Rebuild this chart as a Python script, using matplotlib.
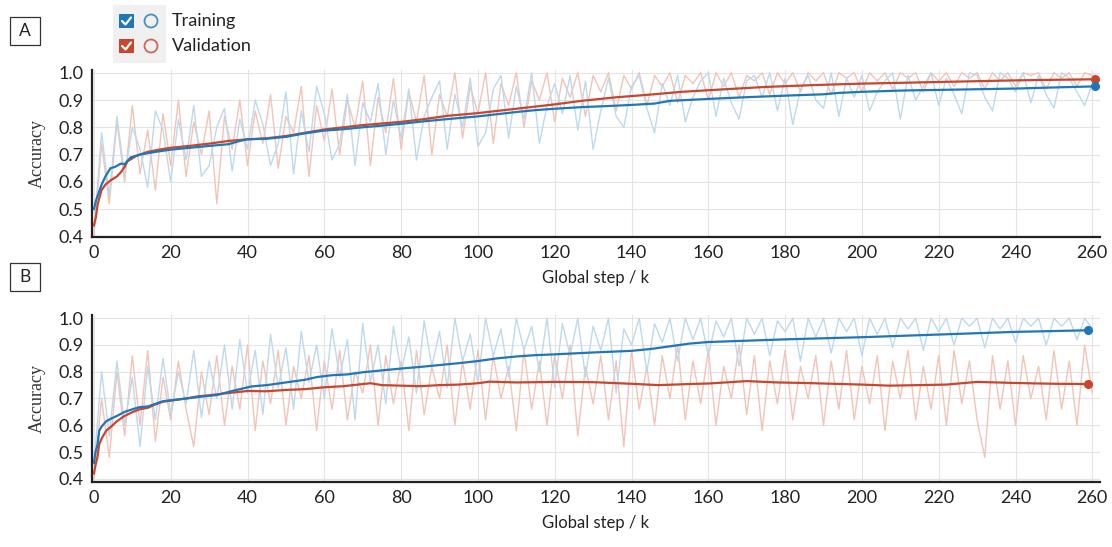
import numpy as np
import matplotlib
matplotlib.use('Agg')
import matplotlib.pyplot as plt
from matplotlib.patches import Rectangle, Circle

# ---- data -------------------------------------------------------------
raw_steps = np.arange(0, 261, 2)

a_train_raw = [0.42, 0.78, 0.55, 0.84, 0.62, 0.80, 0.72, 0.58, 0.86, 0.79,
               0.60, 0.83, 0.68, 0.88, 0.62, 0.66, 0.80, 0.87, 0.64, 0.83,
               0.72, 0.90, 0.81, 0.66, 0.74, 0.93, 0.63, 0.86, 0.71, 0.95,
               0.85, 0.68, 0.74, 0.92, 0.66, 0.89, 0.82, 0.96, 0.70, 0.90,
               0.76, 0.94, 0.68, 0.84, 0.91, 0.97, 0.72, 0.92, 0.80, 0.98,
               0.73, 0.78, 0.94, 0.99, 0.76, 0.95, 0.83, 1.00, 0.74, 0.88,
               0.96, 0.85, 0.99, 0.79, 0.97, 0.72, 0.86, 0.98, 0.84, 0.80,
               0.95, 0.99, 0.87, 0.78, 0.96, 0.88, 0.99, 0.82, 0.91, 0.97,
               1.00, 0.84, 0.98, 0.89, 0.83, 0.97, 0.99, 0.91, 1.00, 0.86,
               0.98, 0.81, 0.94, 0.99, 0.90, 0.87, 1.00, 0.84, 0.98, 0.91,
               0.99, 0.86, 0.93, 0.97, 1.00, 0.83, 0.99, 0.90, 0.95, 1.00,
               0.88, 0.98, 0.92, 0.85, 1.00, 0.99, 0.91, 0.86, 1.00, 0.98,
               0.93, 1.00, 0.89, 0.99, 0.92, 0.87, 1.00, 0.98, 0.93, 0.88,
               0.96]
a_val_raw = [0.40, 0.74, 0.52, 0.82, 0.60, 0.88, 0.63, 0.79, 0.57, 0.85,
             0.66, 0.90, 0.62, 0.82, 0.70, 0.86, 0.52, 0.84, 0.72, 0.90,
             0.66, 0.86, 0.74, 0.92, 0.65, 0.84, 0.78, 0.95, 0.62, 0.88,
             0.75, 0.94, 0.70, 0.90, 0.80, 0.97, 0.66, 0.91, 0.78, 0.98,
             0.72, 0.93, 0.82, 0.99, 0.70, 0.92, 0.84, 1.00, 0.76, 0.95,
             0.85, 1.00, 0.74, 0.96, 0.88, 1.00, 0.80, 0.97, 0.90, 1.00,
             0.82, 0.98, 0.91, 1.00, 0.84, 0.99, 0.93, 1.00, 0.86, 0.99,
             0.94, 1.00, 0.88, 0.99, 0.95, 1.00, 0.89, 0.99, 0.96, 1.00,
             0.90, 1.00, 0.95, 1.00, 0.91, 0.99, 0.97, 1.00, 0.92, 1.00,
             0.96, 1.00, 0.93, 1.00, 0.97, 1.00, 0.92, 1.00, 0.98, 1.00,
             0.93, 1.00, 0.97, 1.00, 0.94, 1.00, 0.98, 1.00, 0.93, 1.00,
             0.97, 1.00, 0.95, 1.00, 0.98, 1.00, 0.94, 1.00, 0.97, 1.00,
             0.95, 1.00, 0.99, 1.00, 0.94, 1.00, 0.98, 1.00, 0.95, 1.00,
             0.99]
b_train_raw = [0.45, 0.80, 0.56, 0.84, 0.60, 0.78, 0.52, 0.82, 0.62, 0.85,
               0.64, 0.80, 0.68, 0.88, 0.63, 0.84, 0.70, 0.90, 0.66, 0.92,
               0.72, 0.88, 0.64, 0.94, 0.74, 0.89, 0.66, 0.95, 0.76, 0.90,
               0.70, 0.96, 0.78, 0.92, 0.62, 0.98, 0.76, 0.90, 0.68, 0.97,
               0.80, 0.93, 0.72, 0.99, 0.82, 0.95, 0.74, 1.00, 0.84, 0.94,
               0.76, 1.00, 0.86, 0.96, 0.78, 1.00, 0.88, 0.97, 0.80, 1.00,
               0.74, 0.98, 0.86, 1.00, 0.78, 0.97, 0.88, 1.00, 0.72, 0.96,
               0.90, 1.00, 0.80, 0.98, 0.91, 1.00, 0.84, 1.00, 0.92, 1.00,
               0.86, 0.99, 0.93, 1.00, 0.82, 1.00, 0.94, 1.00, 0.86, 0.99,
               0.95, 1.00, 0.84, 1.00, 0.93, 1.00, 0.87, 1.00, 0.95, 1.00,
               0.86, 1.00, 0.94, 1.00, 0.89, 1.00, 0.96, 1.00, 0.88, 1.00,
               0.95, 1.00, 0.90, 1.00, 0.97, 1.00, 0.89, 1.00, 0.96, 1.00,
               0.91, 1.00, 0.97, 1.00, 0.90, 1.00, 0.97, 1.00, 0.92, 1.00,
               0.96]
b_val_raw = [0.40, 0.70, 0.48, 0.80, 0.56, 0.86, 0.60, 0.88, 0.54, 0.78,
             0.62, 0.84, 0.66, 0.52, 0.80, 0.64, 0.86, 0.60, 0.82, 0.66,
             0.90, 0.58, 0.84, 0.68, 0.88, 0.60, 0.82, 0.70, 0.86, 0.58,
             0.84, 0.66, 0.88, 0.62, 0.80, 0.72, 0.90, 0.60, 0.86, 0.68,
             0.84, 0.58, 0.88, 0.64, 0.82, 0.70, 0.90, 0.60, 0.84, 0.66,
             0.88, 0.62, 0.86, 0.70, 0.82, 0.58, 0.88, 0.66, 0.84, 0.60,
             0.86, 0.70, 0.90, 0.56, 0.82, 0.68, 0.86, 0.62, 0.84, 0.52,
             0.88, 0.66, 0.82, 0.60, 0.86, 0.70, 0.90, 0.62, 0.84, 0.68,
             0.88, 0.60, 0.82, 0.70, 0.90, 0.64, 0.86, 0.58, 0.84, 0.68,
             0.88, 0.62, 0.82, 0.70, 0.86, 0.60, 0.84, 0.66, 0.88, 0.62,
             0.82, 0.68, 0.86, 0.58, 0.84, 0.70, 0.88, 0.62, 0.82, 0.66,
             0.86, 0.60, 0.88, 0.68, 0.84, 0.62, 0.48, 0.86, 0.66, 0.84,
             0.60, 0.86, 0.70, 0.82, 0.62, 0.88, 0.66, 0.84, 0.60, 0.90,
             0.72]

a_train_x = [0, 0.5, 1, 2, 3, 4.3, 5.5, 7, 8, 9.6, 12, 14, 17, 20, 25, 31, 35,
             38, 40, 45, 50, 55, 60, 65, 70, 75, 80, 86, 92, 100, 105, 110,
             115, 120, 127, 134, 140, 146, 150, 160, 171, 182, 190, 194, 200,
             211, 220, 232, 240, 250, 260.7]
a_train_smooth = [0.50, 0.53, 0.55, 0.59, 0.62, 0.65, 0.655, 0.667, 0.665,
                  0.69, 0.70, 0.705, 0.712, 0.718, 0.725, 0.733, 0.738, 0.75,
                  0.756, 0.758, 0.765, 0.778, 0.788, 0.793, 0.80, 0.806,
                  0.813, 0.822, 0.83, 0.84, 0.848, 0.856, 0.863, 0.868,
                  0.874, 0.878, 0.882, 0.887, 0.897, 0.904, 0.911, 0.917,
                  0.921, 0.926, 0.93, 0.935, 0.937, 0.94, 0.942, 0.946, 0.95]
a_val_x = [0, 0.5, 1, 2, 3, 4.3, 6, 7, 8, 8.7, 11, 14, 17, 20, 25, 31, 35, 40,
           45, 50, 55, 60, 65, 70, 75, 80, 86, 92, 100, 105, 110, 115, 120,
           127, 136, 145, 153, 165, 175, 188, 200, 210, 220, 230, 240, 250,
           260.7]
a_val_smooth = [0.44, 0.47, 0.52, 0.57, 0.59, 0.605, 0.62, 0.635, 0.655, 0.675,
                0.695, 0.71, 0.718, 0.725, 0.732, 0.742, 0.75, 0.756, 0.76,
                0.768, 0.78, 0.792, 0.80, 0.808, 0.814, 0.82, 0.83, 0.842,
                0.852, 0.86, 0.868, 0.876, 0.884, 0.897, 0.91, 0.92, 0.93,
                0.94, 0.948, 0.955, 0.96, 0.963, 0.966, 0.969, 0.972, 0.974,
                0.976]
b_train_x = [0, 0.4, 0.9, 1.4, 2, 3.2, 4.5, 6, 8, 10.5, 12, 14, 16, 18, 21, 24,
             28.6, 32, 36, 41, 45, 50, 55, 58, 62, 66, 70, 75, 80, 85, 90, 95,
             100, 105, 110, 115, 120, 130, 140, 145, 150, 155, 160, 170, 180,
             190, 200, 210, 220, 230, 240, 250, 259]
b_train_smooth = [0.46, 0.50, 0.525, 0.58, 0.595, 0.615, 0.625, 0.635, 0.65,
                  0.662, 0.668, 0.67, 0.68, 0.69, 0.695, 0.70, 0.708, 0.713,
                  0.728, 0.745, 0.75, 0.76, 0.77, 0.78, 0.787, 0.79, 0.798,
                  0.805, 0.812, 0.818, 0.825, 0.832, 0.84, 0.85, 0.857, 0.862,
                  0.865, 0.872, 0.878, 0.885, 0.895, 0.905, 0.911, 0.916,
                  0.921, 0.925, 0.929, 0.934, 0.939, 0.944, 0.949, 0.952, 0.955]
b_val_x = [0, 0.4, 0.9, 1.4, 2, 3.2, 4.5, 6, 8, 10.5, 12, 14, 16, 18, 21, 24,
           27, 30, 36, 40, 45, 50, 55, 60, 65, 70, 72, 75, 80, 85, 90, 95, 100,
           103, 110, 120, 130, 140, 147, 155, 160, 170, 178, 185, 195, 200,
           207, 215, 222, 230, 240, 250, 259]
b_val_smooth = [0.42, 0.45, 0.48, 0.53, 0.55, 0.58, 0.595, 0.615, 0.635,
                0.652, 0.66, 0.665, 0.678, 0.688, 0.694, 0.70, 0.708, 0.712,
                0.722, 0.728, 0.727, 0.732, 0.735, 0.742, 0.746, 0.754, 0.757,
                0.75, 0.748, 0.746, 0.75, 0.752, 0.757, 0.763, 0.76, 0.762,
                0.761, 0.755, 0.75, 0.754, 0.756, 0.765, 0.76, 0.758, 0.754,
                0.752, 0.748, 0.75, 0.752, 0.762, 0.758, 0.755, 0.754]

x_ticks = list(range(0, 261, 20))
y_ticks = [0.4, 0.5, 0.6, 0.7, 0.8, 0.9, 1.0]
legend_labels = ['Training', 'Validation']

# ---- style ------------------------------------------------------------
blue = '#1f77b8'
red = '#c9452c'
blue_raw = '#bcd9ee'
red_raw = '#f3c3b6'
sans = ['Lato', 'DejaVu Sans']

W, H = 1112, 547
fig = plt.figure(figsize=(W / 100, H / 100), dpi=100)


def panel(top_px, bottom_px, ylim, tr_raw, va_raw, tx, ts, vx, vs):
    ax = fig.add_axes([92 / W, 1 - bottom_px / H, (1100 - 92) / W,
                       (bottom_px - top_px) / H])
    ax.plot(raw_steps, va_raw, color=red_raw, lw=1.0, zorder=2)
    ax.plot(raw_steps, tr_raw, color=blue_raw, lw=1.0, zorder=3)
    ax.plot(vx, vs, color=red, lw=1.6, zorder=4)
    ax.plot(tx, ts, color=blue, lw=1.6, zorder=5)
    ax.plot(vx[-1], vs[-1], 'o', color=red, ms=5.5, zorder=6)
    ax.plot(tx[-1], ts[-1], 'o', color=blue, ms=5.5, zorder=6)
    ax.set_xlim(-0.5, 262)
    ax.set_ylim(*ylim)
    ax.set_xticks(x_ticks)
    ax.set_yticks(y_ticks)
    ax.set_yticklabels([f'{v:.1f}' for v in y_ticks])
    ax.grid(True, color='#e4e4e4', lw=0.8)
    ax.set_axisbelow(True)
    for s in ['top', 'right']:
        ax.spines[s].set_visible(False)
    for s in ['left', 'bottom']:
        ax.spines[s].set_linewidth(1.6)
        ax.spines[s].set_color('#222222')
    ax.tick_params(length=0, labelsize=13, pad=6)
    for lab in ax.get_xticklabels() + ax.get_yticklabels():
        lab.set_family(sans)
        lab.set_color('#222222')
    ax.set_xlabel('Global step / k', family=sans, fontsize=12,
                  color='#222222', labelpad=6)
    ax.set_ylabel('Accuracy', family='Liberation Serif', fontsize=13,
                  color='#333333', labelpad=9)
    return ax


panel(70, 237, (0.398, 1.01), a_train_raw, a_val_raw,
      a_train_x, a_train_smooth, a_val_x, a_val_smooth)
panel(315, 482, (0.388, 1.012), b_train_raw, b_val_raw,
      b_train_x, b_train_smooth, b_val_x, b_val_smooth)

# overlay in pixel coords for panel letters and legend
ov = fig.add_axes([0, 0, 1, 1], zorder=10)
ov.set_xlim(0, W)
ov.set_ylim(H, 0)
ov.axis('off')
ov.patch.set_alpha(0)

for letter, y0 in [('A', 17), ('B', 263)]:
    ov.add_patch(Rectangle((10, y0), 30, 28, fill=False, ec='#333333', lw=0.9))
    ov.text(25, y0 + 14, letter, ha='center', va='center', family=sans,
            fontsize=12.5, color='#222222')

ov.add_patch(Rectangle((113, 5), 53, 58, fc='#f0f0f0', ec='none'))
for (lab, col, cy) in [(legend_labels[0], blue, 21), (legend_labels[1], red, 46)]:
    ov.add_patch(Rectangle((119, cy - 7), 15, 14, fc=col, ec='none'))
    ov.plot([122, 125.5, 131], [cy, cy + 3.5, cy - 3.5], color='white', lw=1.6,
            solid_capstyle='round')
    ov.add_patch(Circle((151, cy), 6.5, fill=False, ec=col, lw=1.3, alpha=0.8))
    ov.text(172, cy, lab, ha='left', va='center', family=sans, fontsize=13,
            color='#222222')

fig.savefig('out.png', dpi=100)
